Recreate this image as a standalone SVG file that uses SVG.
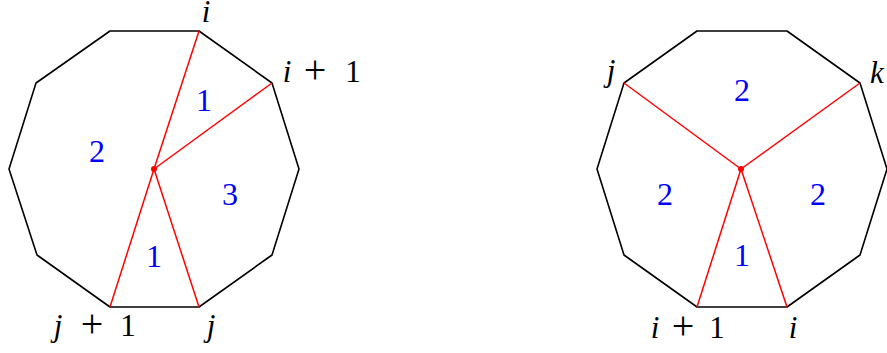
<svg xmlns="http://www.w3.org/2000/svg" width="887" height="353" viewBox="0 0 887 353">
<style>
.poly{fill:none;stroke:#000;stroke-width:1.6;stroke-linejoin:round}
.red{stroke:#f00;stroke-width:1.5;fill:none}
.dot{fill:#f00}
.lbl{font-size:31px;fill:#000;text-anchor:middle}
.plus{font-size:40px;fill:#000;text-anchor:middle}
.it{font-style:italic}
.num{font-size:32px;fill:#00f;text-anchor:middle}
</style>
<g id="left-polygon">
<polygon class="poly" points="110,31 199,31 272,83 299,169 272,255 199,307 110,307 37,255 9,169 36,83"/>
</g>
<g id="right-polygon">
<polygon class="poly" points="697,31 787,31 860,83 887,169 860,255 787,307 697,307 624,255 597,169 624,83"/>
</g>
<g id="connectors">
<line class="red" x1="154" y1="169" x2="199" y2="31"/>
<line class="red" x1="154" y1="169" x2="272" y2="83"/>
<line class="red" x1="154" y1="169" x2="199" y2="307"/>
<line class="red" x1="154" y1="169" x2="110" y2="307"/>
<circle class="dot" cx="154" cy="169" r="3"/>
<line class="red" x1="741" y1="169" x2="624" y2="83"/>
<line class="red" x1="741" y1="169" x2="860" y2="83"/>
<line class="red" x1="741" y1="169" x2="787" y2="307"/>
<line class="red" x1="741" y1="169" x2="697" y2="307"/>
<circle class="dot" cx="741" cy="169" r="3"/>
</g>
<g id="left-labels" font-family="Liberation Serif">
<text class="lbl it" x="206" y="22">i</text>
<text class="lbl it" x="287" y="82">i</text>
<text class="plus" x="315" y="83">+</text>
<text class="lbl" x="353" y="82">1</text>
<text class="lbl it" x="58" y="336">j</text>
<text class="plus" x="92" y="337">+</text>
<text class="lbl" x="128" y="336">1</text>
<text class="lbl it" x="211" y="336">j</text>
<text class="num" x="97" y="162">2</text>
<text class="num" x="204" y="111">1</text>
<text class="num" x="230" y="205">3</text>
<text class="num" x="154" y="267">1</text>
</g>
<g id="right-labels" font-family="Liberation Serif">
<text class="lbl it" x="611" y="81">j</text>
<text class="lbl it" x="877" y="83">k</text>
<text class="lbl it" x="655" y="338">i</text>
<text class="plus" x="683" y="339">+</text>
<text class="lbl" x="717" y="338">1</text>
<text class="lbl it" x="793" y="338">i</text>
<text class="num" x="742" y="101">2</text>
<text class="num" x="665" y="205">2</text>
<text class="num" x="818" y="205">2</text>
<text class="num" x="742" y="266">1</text>
</g>
</svg>
